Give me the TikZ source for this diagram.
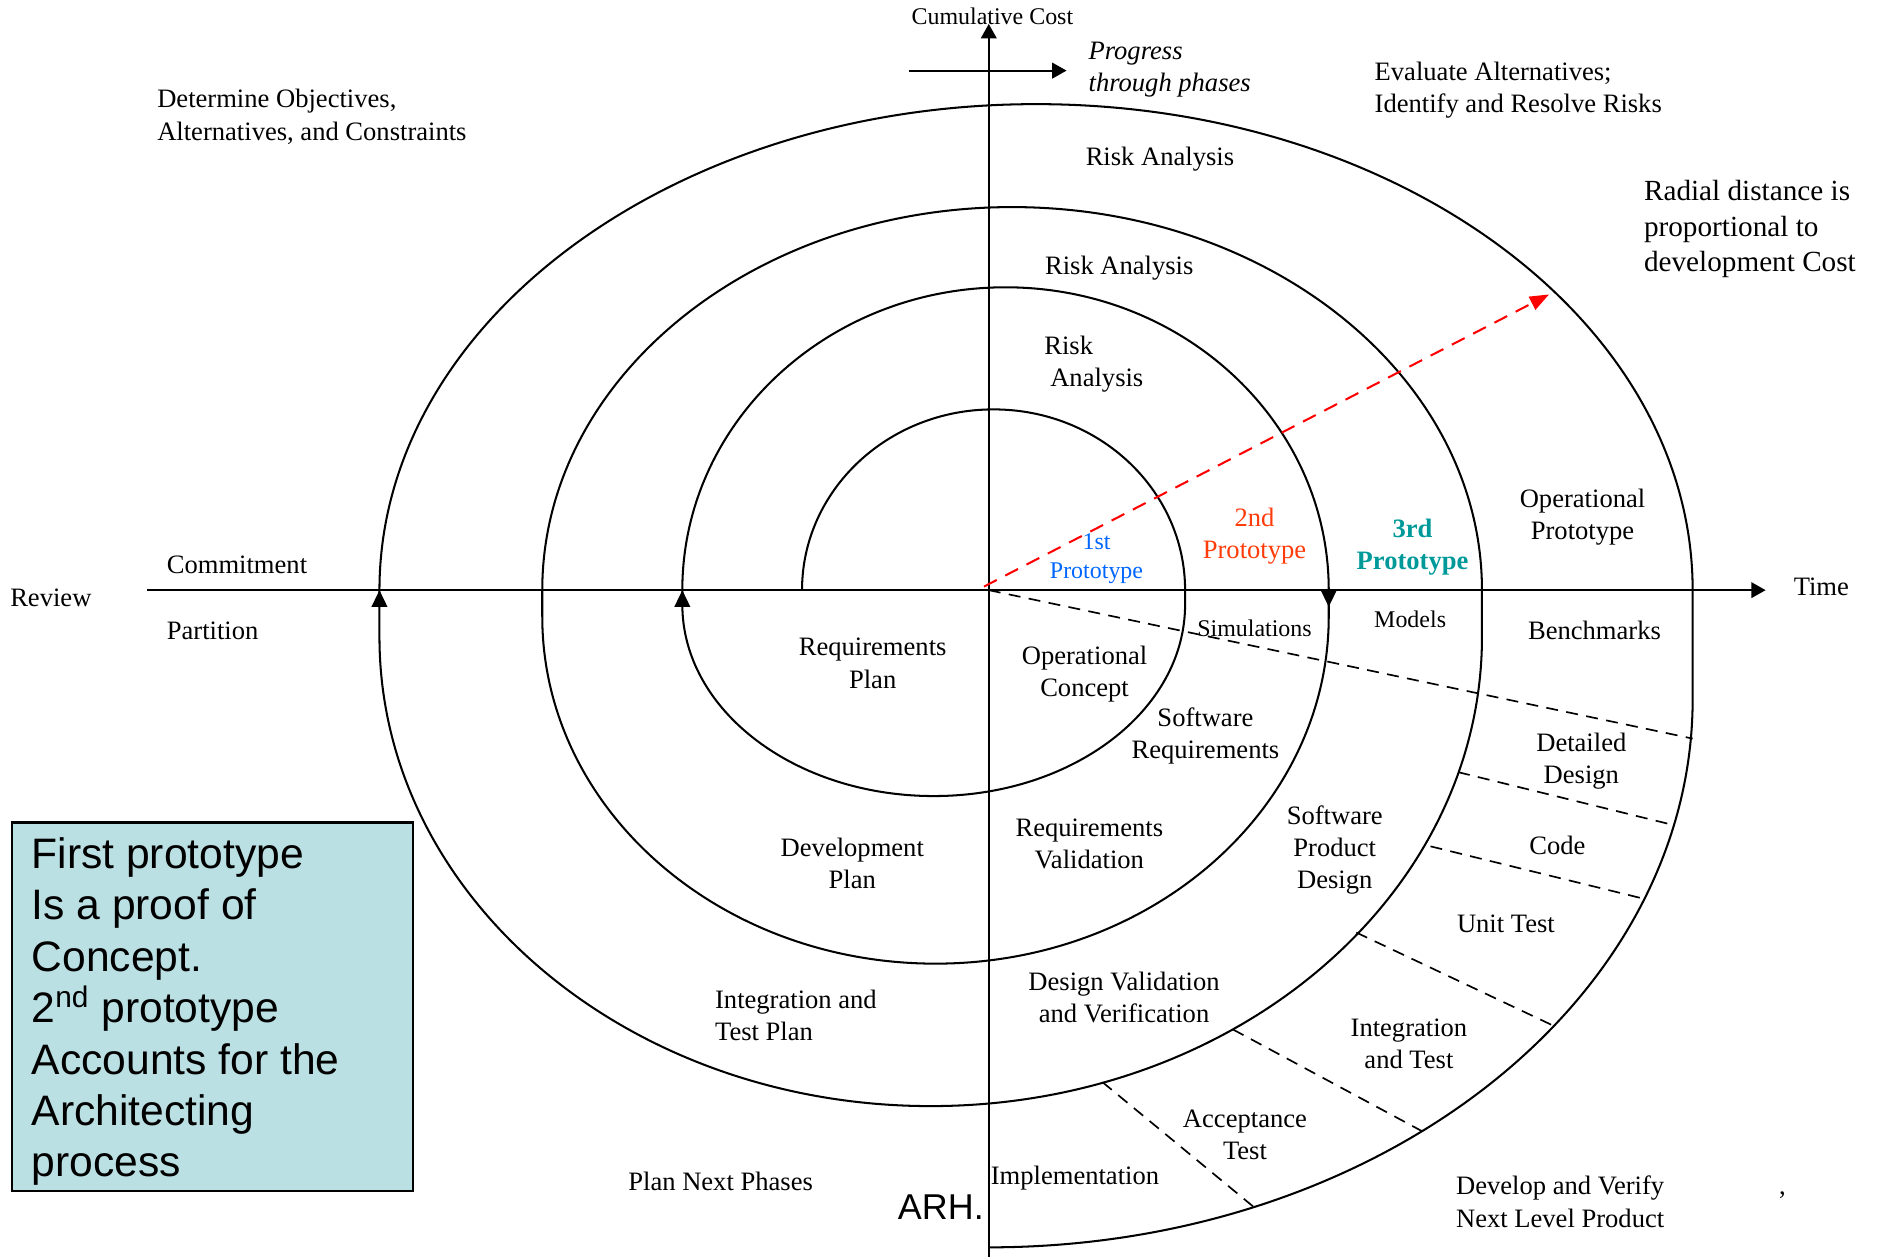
\documentclass[tikz,border=0pt]{standalone}
\usepackage{fontspec}
\setmainfont{Liberation Serif}
\newfontfamily\arialfont{Liberation Sans}
\usetikzlibrary{arrows.meta}
\definecolor{firstblue}{RGB}{0,102,255}
\definecolor{secondred}{RGB}{255,60,10}
\definecolor{thirdteal}{RGB}{0,153,153}
\definecolor{notecyan}{RGB}{187,224,227}
\tikzset{
  lbl/.style={font=\fontsize{11.1}{13.5}\selectfont, align=center, inner sep=0pt},
  lblsmall/.style={font=\fontsize{10}{12}\selectfont, align=center, inner sep=0pt},
  lblit/.style={font=\fontsize{11.1}{13.5}\selectfont\itshape, align=left, inner sep=0pt},
  lblbig/.style={font=\fontsize{12.2}{14.75}\selectfont, align=left, inner sep=0pt},
  notetext/.style={font=\arialfont\fontsize{17.8}{21.5}\selectfont, align=left, inner sep=0pt},
  spiral/.style={line width=0.85pt},
  axis/.style={line width=0.85pt, -{Triangle[length=6pt,width=6.5pt]}},
  tip/.style={line width=0.85pt, -{Triangle[length=7pt,width=6.5pt]}},
  divider/.style={line width=0.7pt, dash pattern=on 5pt off 3.5pt},
  costline/.style={red, line width=0.85pt, dash pattern=on 6pt off 4pt, -{Triangle[length=8pt,width=6pt]}},
}
\begin{document}
\begin{tikzpicture}[x=0.5pt,y=0.5pt]
\useasboundingbox (-826,-557) rectangle (742,493);

% axes
\draw[axis] (-703,0) -- (649,0);
\draw[axis] (0,-557) -- (0,473);
\draw[axis] (-67,434) -- (65,434);

% the spiral
\draw[spiral] (-156,0)
  arc[start angle=180, end angle=0, x radius=160, y radius=151]
  -- (164,-12)
  arc[start angle=0, end angle=-180, x radius=210, y radius=160]
  -- (-256,0)
  arc[start angle=180, end angle=0, x radius=270, y radius=253]
  -- (284,-22)
  arc[start angle=0, end angle=-180, x radius=328.5, y radius=290]
  -- (-373,0)
  arc[start angle=180, end angle=0, x radius=392.5, y radius=320]
  -- (412,-39)
  arc[start angle=0, end angle=-180, x radius=460.5, y radius=392]
  -- (-509,0)
  arc[start angle=180, end angle=0, x radius=548.5, y radius=406]
  -- (588,-91)
  arc[start angle=0, end angle=-90, x radius=588, y radius=458];
\draw[tip] (-256,-14) -- (-256,0);
\draw[tip] (284,0) -- (284,-14);
\draw[tip] (-509,-14) -- (-509,0);

% phase dividers
\draw[divider] (0,0) -- (588,-124);
\draw[divider] (392,-152) -- (567,-195);
\draw[divider] (369,-214) -- (544,-257);
\draw[divider] (307,-286) -- (472,-364);
\draw[divider] (204,-367) -- (362,-452);
\draw[divider] (95,-411) -- (221,-515);

\draw[costline] (-4,3) -- (468,247);

% quadrant texts
\node[lblsmall] (cost) at (3,479) {Cumulative Cost};
\node[lblit, anchor=west] (progress) at (83,435) {Progress\\through phases};
\node[lbl, anchor=west, align=left] (objectives) at (-695,395.5) {Determine Objectives,\\Alternatives, and Constraints};
\node[lbl, anchor=west, align=left] (evaluate) at (322,417.5) {Evaluate Alternatives;\\Identify and Resolve Risks};
\node[lblbig, anchor=west] (radial) at (547,301.5) {Radial distance is\\proportional to\\development Cost};
\node[lbl] (risk3) at (143,360) {Risk Analysis};
\node[lbl] (risk2) at (109,269) {Risk Analysis};
\node[lbl, anchor=west, align=left] (risk1) at (46,189) {Risk\\\hspace{2.5pt}Analysis};
\node[lblsmall, text=firstblue] (proto1) at (90,26) {1st\\Prototype};
\node[lbl, text=secondred] (proto2) at (222,45) {2nd\\Prototype};
\node[lbl, text=thirdteal, font=\fontsize{11.1}{13.5}\selectfont\bfseries] (proto3) at (354,36) {3rd\\Prototype};
\node[lbl] (opproto) at (496,61) {Operational\\Prototype};
\node[lbl] (time) at (695.5,3) {Time};
\node[lbl] (review) at (-783.5,-6) {Review};
\node[lbl, anchor=west] (commit) at (-687,21) {Commitment};
\node[lbl, anchor=west] (partition) at (-687,-34) {Partition};

% lower half
\node[lbl] (reqplan) at (-97,-61) {Requirements\\Plan};
\node[lbl] (opconcept) at (80,-70) {Operational\\Concept};
\node[lblsmall] (sims) at (222,-32) {Simulations};
\node[lblsmall] (models) at (352,-24) {Models};
\node[lbl] (bench) at (506,-34) {Benchmarks};
\node[lbl] (swreq) at (181,-122) {Software\\Requirements};
\node[lbl] (detdesign) at (495,-143) {Detailed\\Design};
\node[lbl] (code) at (475,-213) {Code};
\node[lbl] (swprod) at (289,-217) {Software\\Product\\Design};
\node[lbl] (reqval) at (84,-212) {Requirements\\Validation};
\node[lbl] (devplan) at (-114,-228) {Development\\Plan};
\node[lbl] (unittest) at (432,-279) {Unit Test};
\node[lbl, anchor=west, align=left] (itplan) at (-229,-355) {Integration and\\Test Plan};
\node[lbl] (desval) at (113,-340) {Design Validation\\and Verification};
\node[lbl] (inttest) at (351,-379) {Integration\\and Test};
\node[lbl] (acctest) at (214,-455) {Acceptance\\Test};
\node[lbl] (impl) at (72,-491) {Implementation};
\node[lbl] (plannext) at (-224,-494) {Plan Next Phases};
\node[lbl, anchor=west, align=left] (develop) at (390,-511) {Develop and Verify\\Next Level Product};
\node[lbl, font=\arialfont\fontsize{15}{18}\selectfont] (arh) at (-40,-515) {ARH.};
\node[lbl] (comma) at (663,-505) {,};

% note box
\draw[fill=notecyan, line width=1pt] (-816,-194) rectangle (-481,-502);
\node[notetext, anchor=north west] (note) at (-800,-206) {First prototype\\Is a proof of\\Concept.\\2\textsuperscript{nd} prototype\\Accounts for the\\Architecting\\process};
\end{tikzpicture}
\end{document}
